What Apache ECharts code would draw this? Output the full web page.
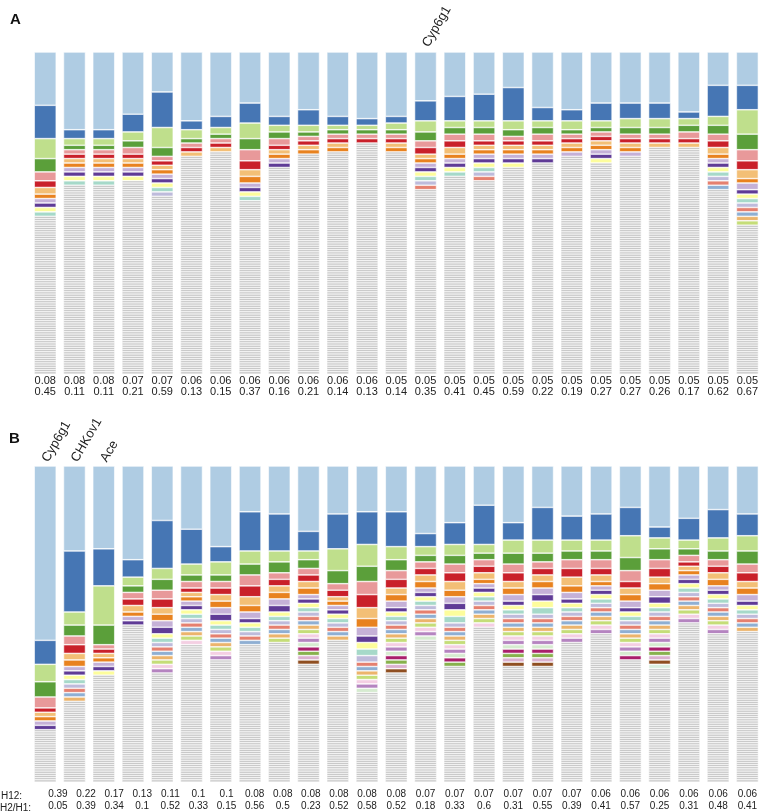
<!DOCTYPE html>
<html>
<head>
<meta charset="utf-8">
<title>Haplotype frequency spectra</title>
<script src="https://cdn.jsdelivr.net/npm/echarts@6/dist/echarts.min.js"></script>
<style>
  html, body { margin: 0; padding: 0; background: #fff; }
  #hapChart { width: 762px; height: 811px; }
</style>
</head>
<body>
<div id="hapChart"></div>
<script>
// 单倍型频谱图 (A / B 两个面板)
var N_SAMPLES = 145;

// 各单倍型颜色 (按频率排名)
var hapColors = [
  "#afcce3", "#4676b4", "#bfdf8c", "#5b9f3a", "#e8999a", "#c9202a",
  "#f3bf76", "#e8821f", "#c5b1d7", "#5f3b96", "#fdfd9c", "#a6d9c9",
  "#bebbdb", "#e5806f", "#8fafd3", "#ecb46c", "#c5dd78", "#f4cfe3",
  "#b584c0", "#d6ebd0", "#a91f6b", "#87b14c", "#dbb1cf", "#8f4f22", "#d9eedf"
];
var singletonColor = "#c0c0c0";

// 面板A
var h12A = ["0.08", "0.08", "0.08", "0.07", "0.07", "0.06", "0.06", "0.06", "0.06", "0.06", "0.06", "0.06", "0.05",
  "0.05", "0.05", "0.05", "0.05", "0.05", "0.05", "0.05", "0.05", "0.05", "0.05", "0.05", "0.05"];
var ratioA = ["0.45", "0.11", "0.11", "0.21", "0.59", "0.13", "0.15", "0.37", "0.16", "0.21", "0.14", "0.13", "0.14",
  "0.35", "0.41", "0.45", "0.59", "0.22", "0.19", "0.27", "0.27", "0.26", "0.17", "0.62", "0.67"];
var geneA = ["", "", "", "", "", "", "", "", "", "", "", "", "", "Cyp6g1", "", "", "", "", "", "", "", "", "", "", ""];
// 每个峰的单倍型计数 (从上到下), 剩余为单例
var hapA = [
  [24, 15, 9, 6, 4, 3, 3, 2, 2, 2, 2, 2],
  [35, 4, 3, 2, 2, 2, 2, 2, 2, 2, 2, 2],
  [35, 4, 3, 2, 2, 2, 2, 2, 2, 2, 2, 2],
  [28, 8, 4, 3, 3, 2, 2, 2, 2, 2, 2],
  [18, 16, 9, 4, 2, 2, 2, 2, 2, 2, 2, 2, 2],
  [31, 4, 4, 2, 2, 2, 2],
  [29, 5, 3, 2, 2, 2, 2],
  [23, 9, 7, 5, 5, 4, 3, 3, 2, 2, 2, 2],
  [29, 4, 3, 3, 3, 2, 2, 2, 2, 2],
  [26, 7, 3, 2, 2, 2, 2, 2],
  [29, 4, 2, 2, 2, 2, 2, 2],
  [30, 3, 2, 2, 2, 2],
  [29, 3, 3, 2, 2, 2, 2, 2],
  [22, 9, 5, 4, 3, 3, 2, 2, 2, 2, 2, 2, 2, 2],
  [20, 11, 3, 3, 3, 3, 3, 2, 2, 2, 2, 2],
  [19, 12, 3, 3, 3, 2, 2, 2, 2, 2, 2, 2, 2, 2],
  [16, 15, 4, 3, 2, 2, 2, 2, 2, 2, 2],
  [25, 6, 3, 3, 3, 2, 2, 2, 2, 2],
  [26, 5, 4, 2, 2, 2, 2, 2, 2],
  [23, 8, 3, 2, 2, 2, 2, 2, 2, 2, 2],
  [23, 7, 4, 3, 2, 2, 2, 2, 2],
  [23, 7, 4, 3, 2, 2, 2],
  [27, 3, 3, 3, 3, 2, 2],
  [15, 14, 4, 4, 3, 3, 3, 2, 2, 2, 2, 2, 2, 2, 2],
  [15, 11, 11, 7, 5, 4, 4, 2, 3, 2, 2, 2, 2, 2, 2, 2, 2]
];

// 面板B
var h12B = ["0.39", "0.22", "0.17", "0.13", "0.11", "0.1", "0.1", "0.08", "0.08", "0.08", "0.08", "0.08", "0.08",
  "0.07", "0.07", "0.07", "0.07", "0.07", "0.07", "0.06", "0.06", "0.06", "0.06", "0.06", "0.06"];
var ratioB = ["0.05", "0.39", "0.34", "0.1", "0.52", "0.33", "0.15", "0.56", "0.5", "0.23", "0.52", "0.58", "0.52",
  "0.18", "0.33", "0.6", "0.31", "0.55", "0.39", "0.41", "0.57", "0.25", "0.31", "0.48", "0.41"];
var geneB = ["Cyp6g1", "CHKov1", "Ace", "", "", "", "", "", "", "", "", "", "", "", "", "", "", "", "", "", "", "", "", "", ""];
var hapB = [
  [80, 11, 8, 7, 5, 2, 2, 2, 2, 2],
  [39, 28, 6, 5, 4, 4, 3, 3, 2, 2, 2, 2, 2, 2, 2, 2],
  [38, 17, 18, 9, 2, 2, 2, 2, 2, 2, 2],
  [43, 8, 4, 3, 3, 3, 3, 2, 2, 2],
  [25, 22, 5, 5, 4, 4, 3, 3, 3, 3, 2, 2, 2, 2, 2, 2, 2, 2, 2],
  [29, 16, 5, 3, 3, 2, 2, 2, 2, 2, 2, 2, 2, 2, 2, 2, 2, 2],
  [37, 7, 6, 3, 3, 3, 3, 3, 3, 3, 2, 2, 2, 2, 2, 2, 2, 2, 2],
  [21, 18, 6, 5, 5, 5, 4, 3, 3, 2, 2, 2, 2, 2, 2],
  [22, 17, 5, 5, 3, 3, 3, 3, 3, 3, 2, 2, 2, 2, 2, 2, 2],
  [30, 9, 4, 4, 3, 3, 3, 3, 2, 2, 2, 2, 2, 2, 2, 2, 2, 2, 2, 2, 2, 2, 2, 2],
  [22, 16, 10, 6, 3, 3, 2, 2, 2, 2, 2, 2, 2, 2, 2, 2],
  [21, 15, 10, 7, 6, 6, 5, 4, 4, 3, 3, 3, 3, 2, 2, 2, 2, 2, 2, 2],
  [21, 16, 6, 5, 4, 4, 3, 3, 3, 2, 2, 2, 2, 2, 2, 2, 2, 2, 2, 2, 2, 2, 2, 2],
  [31, 6, 4, 3, 3, 3, 3, 3, 2, 2, 2, 2, 2, 2, 2, 2, 2, 2, 2, 2],
  [26, 10, 5, 4, 4, 4, 4, 3, 3, 3, 3, 3, 2, 2, 2, 2, 2, 2, 2, 2, 2, 2],
  [18, 18, 4, 3, 3, 3, 3, 2, 2, 2, 2, 2, 2, 2, 2, 2, 2, 2],
  [26, 8, 6, 5, 4, 4, 3, 3, 3, 2, 2, 2, 2, 2, 2, 2, 2, 2, 2, 2, 2, 2, 2, 2],
  [19, 15, 6, 4, 3, 3, 3, 3, 3, 3, 3, 3, 2, 2, 2, 2, 2, 2, 2, 2, 2, 2, 2, 2],
  [23, 11, 5, 4, 4, 4, 4, 3, 3, 2, 2, 2, 2, 2, 2, 2, 2, 2, 2],
  [22, 12, 5, 4, 4, 3, 3, 2, 2, 2, 2, 2, 2, 2, 2, 2, 2, 2, 2],
  [19, 13, 10, 6, 5, 3, 3, 3, 3, 2, 2, 2, 2, 2, 2, 2, 2, 2, 2, 2, 2],
  [28, 5, 5, 5, 4, 4, 3, 3, 3, 3, 2, 2, 2, 2, 2, 2, 2, 2, 2, 2, 2, 2, 2, 2, 2],
  [24, 10, 4, 3, 3, 2, 2, 2, 2, 2, 2, 2, 2, 2, 2, 2, 2, 2, 2],
  [20, 13, 6, 4, 3, 3, 3, 3, 2, 2, 2, 2, 2, 2, 2, 2, 2, 2, 2],
  [22, 10, 7, 6, 4, 4, 3, 3, 3, 2, 2, 2, 2, 2, 2, 2]
];

var FONT = "Liberation Sans, Arial, Helvetica, sans-serif";
var idx25 = hapA.map(function (d, i) { return i; });

// 把每根柱子拆成堆叠段: 彩色单倍型 + 单例 (灰色)
function buildPanelSeries(haps, panel) {
  var stacks = haps.map(function (counts) {
    var segs = counts.map(function (c, k) {
      return { value: c, color: hapColors[k], bw: 0.6 };
    });
    var used = counts.reduce(function (a, b) { return a + b; }, 0);
    for (var i = used; i < N_SAMPLES; i++) {
      segs.push({ value: 1, color: singletonColor, bw: 0.5 });
    }
    return segs;
  });
  var depth = Math.max.apply(null, stacks.map(function (s) { return s.length; }));
  var list = [];
  for (var level = 0; level < depth; level++) {
    list.push({
      type: "bar",
      stack: "panel" + panel,
      xAxisIndex: panel,
      yAxisIndex: panel,
      barWidth: 22,
      silent: true,
      animation: false,
      itemStyle: { borderColor: "#fff" },
      data: stacks.map(function (s) {
        var seg = s[level];
        return seg ? { value: seg.value, itemStyle: { color: seg.color, borderWidth: seg.bw } } : "-";
      }),
    });
  }
  return list;
}

// 面板B下方数字前几列略微右移
var richB = {};
idx25.forEach(function (i) {
  var shift = i < 11 ? 12.7 * (11 - i) / 11 : 0;
  richB["s" + i] = { fontSize: 10, fontFamily: FONT, color: "#222", lineHeight: 12, padding: [0, 0, 0, shift * 2] };
});

var hapChart = echarts.init(document.getElementById("hapChart"));

var hapOption = {
  animation: false,
  grid: [
    { left: 30.6, top: 52, width: 734.4, height: 322 },
    { left: 30.6, top: 466, width: 734.4, height: 319 },
  ],
  xAxis: [
    {
      type: "category", gridIndex: 0, data: idx25, position: "bottom",
      axisLine: { show: false }, axisTick: { show: false },
      axisLabel: {
        interval: 0, margin: 1, fontSize: 11, lineHeight: 11, color: "#222", fontFamily: FONT,
        formatter: function (v, i) { return h12A[i] + "\n" + ratioA[i]; },
      },
    },
    {
      type: "category", gridIndex: 1, data: idx25, position: "bottom",
      axisLine: { show: false }, axisTick: { show: false },
      axisLabel: {
        interval: 0, margin: 6, rich: richB,
        formatter: function (v, i) {
          return "{s" + i + "|" + h12B[i] + "}\n{s" + i + "|" + ratioB[i] + "}";
        },
      },
    },
    {
      type: "category", gridIndex: 0, data: geneA, position: "top",
      axisLine: { show: false }, axisTick: { show: false },
      axisLabel: { interval: 0, rotate: -60, margin: 6, fontSize: 13, color: "#222", fontFamily: FONT },
    },
    {
      type: "category", gridIndex: 1, data: geneB, position: "top",
      axisLine: { show: false }, axisTick: { show: false },
      axisLabel: { interval: 0, rotate: -60, margin: 5, fontSize: 13, color: "#222", fontFamily: FONT },
    },
  ],
  yAxis: [
    { type: "value", gridIndex: 0, min: 0, max: N_SAMPLES, inverse: true, show: false },
    { type: "value", gridIndex: 1, min: 0, max: N_SAMPLES, inverse: true, show: false },
  ],
  graphic: [
    { type: "text", left: 10, top: 12, style: { text: "A", fontSize: 15, fontWeight: "bold", fontFamily: FONT, fill: "#111" } },
    { type: "text", left: 9, top: 431, style: { text: "B", fontSize: 15, fontWeight: "bold", fontFamily: FONT, fill: "#111" } },
    { type: "text", left: 1, top: 791, style: { text: "H12:", fontSize: 10, fontFamily: FONT, fill: "#222" } },
    { type: "text", left: 0, top: 803, style: { text: "H2/H1:", fontSize: 10, fontFamily: FONT, fill: "#222" } },
  ],
  series: buildPanelSeries(hapA, 0).concat(buildPanelSeries(hapB, 1)),
};

hapChart.setOption(hapOption);

window.addEventListener("resize", function () {
  hapChart.resize();
});
</script>
</body>
</html>
